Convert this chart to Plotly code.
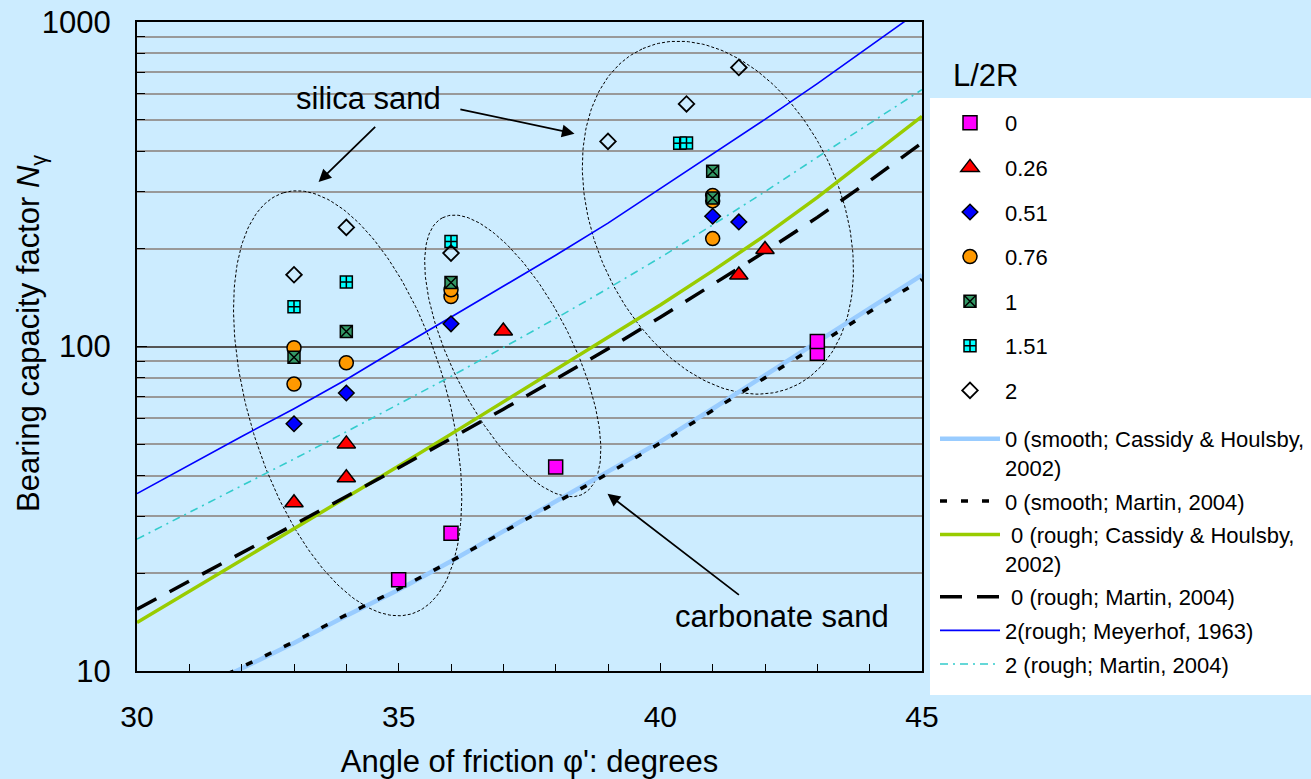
import numpy as np
import plotly.graph_objects as go

# ---------------- data ----------------
sq_phi = [35, 36, 38, 43, 43]
sq_N = [19.1, 26.6, 42.5, 95.4, 103.6]
tri_phi = [33, 34, 34, 37, 41.5, 42]
tri_N = [33.0, 39.4, 50.1, 111.6, 166, 199]
dia_phi = [33, 34, 36, 41, 41.5]
dia_N = [57.8, 71.9, 117.5, 252, 242]
cir_phi = [33, 33, 34, 36, 36, 41, 41, 41]
cir_N = [76.6, 99.1, 89.1, 142.6, 149.6, 215, 281, 292]
x1_phi = [33, 34, 36, 41, 41]
x1_N = [92.7, 111.2, 157.4, 287, 347]
pl_phi = [33, 34, 36, 40.37, 40.5]
pl_N = [132.7, 158, 210.8, 423, 423.7]
od_phi = [33, 34, 36, 39, 40.5, 41.5]
od_N = [166.4, 232.8, 194, 428.5, 559, 724]

smooth_phi = [31, 32, 33, 34, 35, 36, 37, 38, 39, 40, 41, 42, 43, 44, 45]
ch_smooth_N = [8.5, 10.2, 12.2, 14.8, 17.8, 21.8, 26.9, 33.2, 41.0, 50.9, 64.3, 81.3, 103, 131, 166]
m_smooth_N = [8.6, 10.3, 12.3, 14.9, 17.9, 21.8, 26.8, 33.0, 40.6, 50.4, 63.4, 80.0, 101, 128, 161]
rough_phi = [30, 31, 32, 33, 34, 35, 36, 37, 38, 39, 40, 41, 42, 43, 44, 45]
ch_rough_N = [14.1, 17.6, 22.0, 27.4, 34.3, 42.8, 53.7, 67.6, 84.9, 106.9, 134.3, 171, 220, 288, 384, 512]
m_rough_N = [15.5, 18.9, 23.1, 28.2, 34.5, 42.3, 52.0, 64.1, 79.3, 98.4, 123, 155, 196, 250, 324, 424]
mey_phi = [30, 31, 32, 33, 34, 35, 36, 37, 38, 39, 40, 41, 42, 43, 44, 45]
mey_N = [35.2, 43.2, 52.8, 64.3, 79.1, 98.9, 123, 153, 191, 240, 307, 393, 501, 646, 841, 1096]
m2_phi = [30, 31, 32, 33, 34, 35, 36, 37, 38, 39, 40, 41, 42, 43, 44, 45]
m2_N = [25.5, 30.8, 37.2, 45.0, 54.6, 66.4, 80.9, 99.3, 122, 151, 188, 237, 300, 383, 488, 619]

x_ticks = [30, 35, 40, 45]
y_ticks = [10, 100, 1000]
y_minor = [20, 30, 40, 50, 60, 70, 80, 90, 200, 300, 400, 500, 600, 700, 800, 900]

# ---------------- styling constants ----------------
FONT = "Liberation Sans, Arial, sans-serif"
BG = "#CCECFF"
PX_DEG = 52.5      # pixels per degree on x axis
PX_DEC = 324.3     # pixels per decade on y axis
PLOT_L, PLOT_R, PLOT_T, PLOT_B = 137, 922, 22, 671


def px_to_paper(px, py):
    return (px - PLOT_L) / (PLOT_R - PLOT_L), (PLOT_B - py) / (PLOT_B - PLOT_T)


def ellipse(c_phi, c_logN, a, b, tilt_deg, n=240):
    t = np.linspace(0, 2 * np.pi, n)
    al = np.radians(tilt_deg)
    ux, uy = -np.sin(al), -np.cos(al)
    vx, vy = np.cos(al), -np.sin(al)
    dx = a * np.cos(t) * ux + b * np.sin(t) * vx
    dy = a * np.cos(t) * uy + b * np.sin(t) * vy
    return c_phi + dx / PX_DEG, 10 ** (c_logN - dy / PX_DEC)


fig = go.Figure()

# ellipses (dotted outlines)
for (cp, cl, a, b, tl) in [(34.025, 1.825, 220, 99, 17),
                           (37.18, 1.971, 155, 60, 27),
                           (41.10, 2.397, 185, 124, 24)]:
    ex, ey = ellipse(cp, cl, a, b, tl)
    fig.add_trace(go.Scatter(x=ex, y=ey, mode="lines", showlegend=False, hoverinfo="skip",
                             line=dict(color="black", width=1, dash="3px,2px")))

# curves
curves = [
    ("0 (smooth; Cassidy & Houlsby,<br>2002)", smooth_phi, ch_smooth_N, dict(color="#99CCFF", width=4.5)),
    ("0 (smooth; Martin, 2004)", smooth_phi, m_smooth_N, dict(color="black", width=3.5, dash="7px,14px")),
    (" 0 (rough; Cassidy & Houlsby,<br>2002)", rough_phi, ch_rough_N, dict(color="#99CC00", width=3.5)),
    (" 0 (rough; Martin, 2004)", rough_phi, m_rough_N, dict(color="black", width=3.5, dash="22px,15px")),
    ("2(rough; Meyerhof, 1963)", mey_phi, mey_N, dict(color="#0000FF", width=1.6)),
    ("2 (rough; Martin, 2004)", m2_phi, m2_N, dict(color="#33CCCC", width=1.6, dash="8px,5px,2px,5px")),
]
for i, (nm, xs, ys, ln) in enumerate(curves):
    fig.add_trace(go.Scatter(x=xs, y=ys, mode="lines", name=nm, line=ln, legend="legend2",
                             legendgroup="c%d" % i, legendrank=100 + i))

# markers
series = [
    ("0", sq_phi, sq_N, dict(symbol="square", size=14, color="#FF00FF", line=dict(color="black", width=1.5))),
    ("0.26", tri_phi, tri_N, dict(symbol="triangle-up", size=16, color="#FF0000", line=dict(color="black", width=1.5))),
    ("0.51", dia_phi, dia_N, dict(symbol="diamond", size=12, color="#0000FF", line=dict(color="black", width=1.5))),
    ("0.76", cir_phi, cir_N, dict(symbol="circle", size=14, color="#FF9900", line=dict(color="black", width=1.5))),
    ("1", x1_phi, x1_N, dict(symbol="square-x", size=12, color="#339966", line=dict(color="black", width=1.5))),
    ("1.51", pl_phi, pl_N, dict(symbol="square-cross", size=12, color="#00FFFF", line=dict(color="black", width=1.5))),
    ("2", od_phi, od_N, dict(symbol="diamond-open", size=12, color="black", line=dict(color="black", width=1.8))),
]
for i, (nm, xs, ys, mk) in enumerate(series):
    fig.add_trace(go.Scatter(x=xs, y=ys, mode="markers", name=nm, marker=mk, legend="legend",
                             legendgroup="m%d" % i, legendrank=1 + i))

# annotations
ann_font = dict(family=FONT, size=31, color="black")
arrow = dict(showarrow=True, arrowhead=2, arrowsize=1.4, arrowwidth=1.8, arrowcolor="black",
             xref="x", yref="y", axref="x", ayref="y", text="")
lx, ly = px_to_paper(985, 75)
tx, ty = px_to_paper(31, 334)
annotations = [
    dict(x=34.43, y=2.764, xref="x", yref="y", text="silica sand", showarrow=False, font=ann_font),
    dict(x=42.32, y=1.167, xref="x", yref="y", text="carbonate sand", showarrow=False, font=ann_font),
    dict(x=33.47, y=2.507, ax=34.58, ay=2.681, **arrow),
    dict(x=38.36, y=2.656, ax=36.15, ay=2.732, **arrow),
    dict(x=38.99, y=1.546, ax=41.53, ay=1.231, **arrow),
    dict(x=lx, y=ly, xref="paper", yref="paper", xanchor="center", yanchor="middle", text="L/2R",
         showarrow=False, font=dict(family=FONT, size=31, color="black")),
    dict(x=tx, y=ty, xref="paper", yref="paper", xanchor="center", yanchor="middle", textangle=-90,
         text="Bearing capacity factor <i>N</i><sub>γ</sub>", showarrow=False,
         font=dict(family=FONT, size=31, color="black")),
]

bx0, by0 = px_to_paper(930, 695)
bx1, by1 = px_to_paper(1320, 98)
gx, gy = px_to_paper(935, 102)
g2x, g2y = px_to_paper(935, 418)

fig.update_layout(
    width=1311, height=779, autosize=False,
    margin=dict(l=PLOT_L, r=1311 - PLOT_R, t=PLOT_T, b=779 - PLOT_B, autoexpand=False),
    paper_bgcolor=BG, plot_bgcolor=BG,
    font=dict(family=FONT, color="black"),
    annotations=annotations,
    shapes=[dict(type="rect", xref="paper", yref="paper", x0=bx0, x1=bx1, y0=by0, y1=by1,
                 fillcolor="white", line=dict(width=0), layer="below")],
    legend=dict(x=gx, xanchor="left", y=gy, yanchor="top",
                bgcolor="rgba(0,0,0,0)", font=dict(family=FONT, size=22, color="black"),
                tracegroupgap=13, itemwidth=60, traceorder="grouped"),
    legend2=dict(x=gx, xanchor="left", y=g2y, yanchor="top", valign="top",
                 bgcolor="rgba(0,0,0,0)", font=dict(family=FONT, size=22, color="black"),
                 tracegroupgap=2, itemwidth=60, traceorder="grouped"),
    showlegend=True,
)

fig.update_xaxes(range=[30, 45], tickvals=x_ticks, ticks="inside", ticklen=8, tickcolor="black",
                 showline=True, linecolor="black", linewidth=2, mirror=True, showgrid=False, zeroline=False,
                 automargin=False,
                 minor=dict(dtick=1, ticks="inside", ticklen=7, tickcolor="black", showgrid=False),
                 tickfont=dict(family=FONT, size=30), ticklabelstandoff=18,
                 title=dict(text="Angle of friction φ': degrees", font=dict(family=FONT, size=31), standoff=18))
fig.update_yaxes(type="log", range=[1, 3], tickvals=y_ticks, ticktext=[str(v) for v in y_ticks],
                 ticks="inside", ticklen=10, tickcolor="black",
                 showline=True, linecolor="black", linewidth=2, mirror=True,
                 showgrid=True, gridcolor="#555555", gridwidth=1.5, zeroline=False,
                 automargin=False,
                 minor=dict(tickvals=y_minor, ticks="inside", ticklen=8, tickcolor="black",
                            showgrid=True, gridcolor="#999999", gridwidth=1.5),
                 tickfont=dict(family=FONT, size=31), ticklabelstandoff=18)

fig.write_html("out.html")
